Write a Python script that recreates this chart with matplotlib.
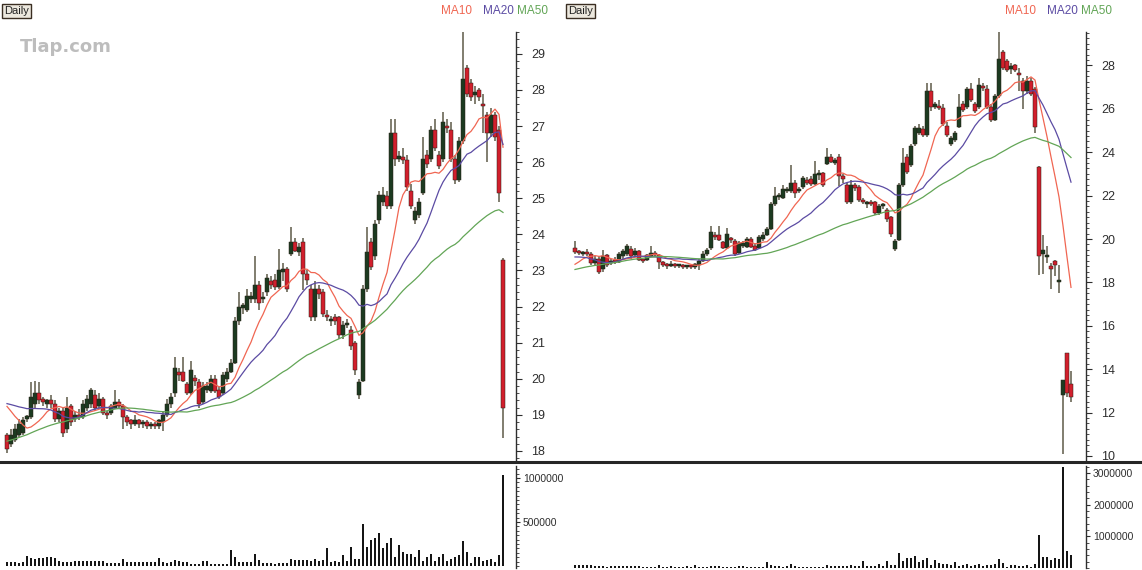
import matplotlib
matplotlib.use('Agg')
import matplotlib.pyplot as plt
import numpy as np
from matplotlib.ticker import MultipleLocator, FixedLocator
from matplotlib.lines import Line2D

plt.rcParams['font.family'] = ['Liberation Sans Narrow', 'Liberation Sans', 'DejaVu Sans']

# ---------------- data ----------------
# closes before the first drawn candle (only used to warm up the moving averages)
history_closes = [16.9, 17.0, 16.8, 16.9, 17.1, 17.0, 17.2, 17.1, 17.3, 17.2,
                  17.4, 17.3, 17.5, 17.4, 17.6, 17.5, 17.7, 17.6, 17.8, 17.7,
                  17.9, 17.8, 18.0, 17.9, 18.1, 18.0, 18.2, 18.3, 18.5, 18.7,
                  19.0, 19.2, 19.4, 19.3, 19.5, 19.4, 19.6, 19.5, 19.4, 19.6,
                  19.8, 20.0, 19.9, 20.1, 19.8,
                  19.2, 18.8, 18.5, 18.2]

opens = [18.45, 18.20, 18.30, 18.45, 18.50, 18.90, 18.95, 19.30, 19.60, 19.45,
         19.30, 19.40, 19.30, 18.90, 19.10, 18.60, 19.25, 18.90, 19.00, 18.95,
         19.20, 19.30, 19.55, 19.25, 19.45, 19.05, 19.05, 19.20, 19.35, 19.25,
         18.95, 18.85, 18.75, 18.85, 18.75, 18.80, 18.70, 18.75, 18.70, 18.80,
         19.00, 19.30, 19.60, 20.20, 20.20, 19.85, 19.60, 20.00, 19.90, 19.35,
         19.70, 19.65, 20.00, 19.70, 19.60, 20.00, 20.20, 20.45, 21.60, 21.95,
         21.90, 22.20, 22.20, 22.60, 22.20, 22.40, 22.70, 22.75, 22.55, 22.95,
         23.05, 23.45, 23.80, 23.50, 23.80, 22.90, 22.50, 21.70, 22.50, 22.40,
         21.75, 21.60, 21.70, 21.70, 21.20, 21.50, 21.35, 21.00, 19.55, 19.95,
         22.50, 23.80, 23.40, 24.40, 24.90, 25.05, 24.80, 26.80, 26.10, 26.15,
         26.05, 25.20, 24.40, 24.55, 25.15, 26.20, 26.10, 26.90, 26.20, 26.10,
         27.00, 26.90, 26.10, 25.50, 26.60, 28.60, 28.20, 27.85, 28.00, 27.60,
         27.30, 26.80, 27.30, 26.90, 23.30, 19.30, 19.15, 18.75, 19.00, 18.00,
         12.80, 14.75, 13.30]

highs = [18.50, 18.60, 18.75, 18.90, 18.95, 19.00, 19.90, 19.95, 19.90, 19.50,
         19.45, 19.55, 19.40, 19.20, 19.20, 19.50, 19.30, 19.10, 19.15, 19.40,
         19.55, 19.75, 19.70, 19.60, 19.50, 19.10, 19.30, 19.70, 19.45, 19.30,
         19.00, 18.90, 19.00, 18.90, 18.85, 18.85, 18.80, 18.80, 18.90, 19.10,
         19.45, 19.60, 20.60, 20.30, 20.60, 19.90, 20.50, 20.10, 20.00, 19.90,
         19.90, 20.10, 20.10, 19.80, 20.20, 20.30, 20.55, 21.70, 22.40, 22.10,
         22.50, 22.40, 23.40, 22.70, 22.40, 22.90, 22.85, 22.90, 23.60, 23.20,
         23.10, 24.20, 23.90, 23.75, 23.90, 23.00, 22.60, 22.70, 22.60, 22.50,
         21.90, 21.75, 21.80, 21.75, 21.60, 21.65, 21.45, 21.05, 20.00, 22.60,
         24.20, 23.90, 24.40, 25.20, 25.30, 25.20, 27.20, 27.20, 26.30, 26.40,
         26.20, 25.40, 24.75, 25.00, 26.70, 26.35, 27.00, 27.20, 26.30, 27.40,
         27.20, 27.10, 26.20, 26.70, 29.60, 28.70, 28.30, 28.10, 28.05, 27.90,
         27.40, 27.50, 27.40, 27.00, 23.35, 20.20, 19.70, 18.90, 19.05, 18.80,
         13.50, 14.75, 13.90]

lows = [17.95, 18.10, 18.25, 18.40, 18.45, 18.80, 18.90, 19.20, 19.30, 19.25,
        19.20, 19.20, 18.80, 18.80, 18.40, 18.50, 18.70, 18.80, 18.85, 18.90,
        19.10, 19.20, 19.10, 19.15, 19.00, 18.90, 19.00, 19.15, 19.15, 18.60,
        18.70, 18.60, 18.70, 18.65, 18.65, 18.60, 18.60, 18.60, 18.60, 18.55,
        18.95, 19.20, 19.50, 19.95, 19.90, 19.55, 19.55, 19.80, 19.20, 19.30,
        19.60, 19.60, 19.60, 19.45, 19.55, 19.90, 20.15, 20.40, 21.50, 21.80,
        21.85, 22.10, 22.10, 21.90, 22.10, 22.30, 22.50, 22.45, 22.50, 22.70,
        22.40, 23.40, 23.50, 23.40, 22.45, 22.60, 21.60, 21.60, 22.20, 21.70,
        21.60, 21.45, 21.50, 21.10, 21.10, 21.40, 20.80, 20.10, 19.45, 19.90,
        22.40, 23.00, 23.30, 24.30, 24.80, 24.70, 24.70, 25.90, 26.00, 25.95,
        25.20, 24.70, 24.30, 24.45, 25.10, 25.85, 26.00, 26.30, 25.80, 26.00,
        26.80, 26.00, 25.40, 25.45, 26.50, 27.80, 27.70, 27.60, 27.70, 26.80,
        26.00, 26.70, 26.60, 24.90, 18.35, 18.40, 18.90, 17.70, 18.30, 17.50,
        10.10, 12.70, 12.50]

closes = [18.05, 18.45, 18.60, 18.75, 18.85, 18.95, 19.50, 19.60, 19.40, 19.35,
          19.40, 19.30, 18.90, 19.10, 18.50, 19.20, 18.80, 19.00, 18.95, 19.30,
          19.45, 19.70, 19.20, 19.45, 19.05, 19.00, 19.25, 19.35, 19.25, 18.95,
          18.80, 18.75, 18.85, 18.75, 18.80, 18.70, 18.75, 18.70, 18.85, 19.00,
          19.30, 19.50, 20.30, 20.10, 19.95, 19.60, 20.25, 19.95, 19.30, 19.80,
          19.80, 20.00, 19.65, 19.50, 20.10, 20.20, 20.45, 21.60, 22.00, 22.05,
          22.30, 22.30, 22.60, 22.10, 22.25, 22.80, 22.60, 22.55, 23.00, 23.05,
          22.50, 23.80, 23.55, 23.65, 22.90, 22.75, 21.70, 22.50, 22.35, 21.80,
          21.70, 21.65, 21.60, 21.20, 21.50, 21.55, 20.90, 20.25, 19.90, 22.50,
          23.50, 23.10, 24.30, 25.10, 25.10, 24.80, 26.80, 26.10, 26.15, 26.05,
          25.30, 24.80, 24.65, 24.90, 26.10, 25.95, 26.90, 26.40, 25.90, 27.10,
          26.95, 26.10, 25.50, 26.60, 28.30, 27.90, 27.80, 27.95, 27.80, 27.55,
          26.80, 27.30, 26.70, 25.15, 19.20, 19.50, 19.25, 18.60, 18.80, 18.10,
          13.50, 12.90, 12.70]

volumes_k = [40, 50, 40, 35, 50, 110, 90, 85, 95, 95,
             100, 100, 90, 55, 50, 50, 45, 55, 60, 60,
             60, 60, 55, 60, 55, 30, 30, 35, 30, 80,
             45, 40, 50, 45, 40, 45, 50, 40, 90, 40,
             35, 45, 70, 60, 50, 40, 20, 20, 25, 60,
             55, 20, 20, 25, 20, 25, 180, 100, 50, 50,
             45, 50, 140, 70, 30, 30, 30, 25, 30, 30,
             35, 80, 70, 70, 70, 70, 60, 80, 60, 70,
             210, 50, 60, 50, 120, 60, 220, 80, 80, 480,
             220, 300, 320, 380, 200, 260, 320, 100, 240, 160,
             140, 140, 100, 180, 60, 100, 140, 60, 100, 140,
             60, 80, 100, 120, 280, 160, 30, 100, 100, 60,
             70, 80, 40, 120, 1030, 350, 350, 250, 300, 280,
             3200, 550, 400]

left_last_index = 124     # last candle of the left chart
right_first_index = 8     # first candle of the right chart
price_ticks_left = list(range(18, 30))
price_ticks_right = list(range(10, 30, 2))
volume_ticks_left = [500000, 1000000]
volume_ticks_right = [1000000, 2000000, 3000000]
ma_periods = [10, 20, 50]
ma_labels = ['MA10', 'MA20', 'MA50']

# ---------------- styling ----------------
UP_COL = '#1c3a20'
DOWN_COL = '#d11f2c'
EDGE_COL = '#2b2118'
WICK_COL = '#5e5a48'
MA_COLS = ['#f06652', '#5b4ba3', '#62a556']
AXIS_COL = '#2e2e2e'

W, H = 1142, 570
fig = plt.figure(figsize=(W / 100, H / 100), dpi=100)
fig.patch.set_facecolor('white')


def axes_px(x0, y0, x1, y1):
    return fig.add_axes([x0 / W, 1 - y1 / H, (x1 - x0) / W, (y1 - y0) / H])


all_closes = np.array(history_closes + closes)
nh = len(history_closes)
n = len(closes)


def moving_average(period):
    out = np.full(n, np.nan)
    for k in range(n):
        j = nh + k
        out[k] = all_closes[j - period + 1:j + 1].mean()
    return out


mas = [moving_average(p) for p in ma_periods]

o = np.array(opens); h = np.array(highs); l = np.array(lows); c = np.array(closes)
v = np.array(volumes_k) * 1000.0


def style_axis(ax, fs, pad, major_len):
    for s in ['top', 'left', 'bottom']:
        ax.spines[s].set_visible(False)
    ax.spines['right'].set_color(AXIS_COL)
    ax.spines['right'].set_linewidth(1.0)
    ax.yaxis.tick_right()
    ax.set_xticks([])
    ax.tick_params(axis='y', which='major', direction='out', length=major_len, width=0.8,
                   colors=AXIS_COL, labelsize=fs, pad=pad)
    ax.tick_params(axis='y', which='minor', direction='out', length=2, width=0.6,
                   colors=AXIS_COL)
    ax.set_facecolor('none')


def draw_panel(px0, px1, i0, i1, xlim, ylim, pticks, pminor, vlim, vticks, vminor):
    idx = np.arange(i0, i1 + 1)
    ax = axes_px(px0, 32, px1, 460)
    ax.set_xlim(*xlim)
    ax.set_ylim(*ylim)
    ax.vlines(idx, l[idx], h[idx], color=WICK_COL, lw=1.1, zorder=2)
    up = c[idx] >= o[idx]
    bottoms = np.minimum(o[idx], c[idx])
    heights = np.maximum(np.abs(c[idx] - o[idx]), 0.06 * (ylim[1] - ylim[0]) / 12)
    cols = [UP_COL if u else DOWN_COL for u in up]
    ax.bar(idx, heights, bottom=bottoms, width=0.8, color=cols,
           edgecolor=EDGE_COL, linewidth=0.35, zorder=3)
    for ma, col in zip(mas, MA_COLS):
        ax.plot(idx, ma[idx], color=col, lw=0.9, zorder=4)
    style_axis(ax, 9, 7, 4)
    ax.yaxis.set_major_locator(FixedLocator(pticks))
    ax.yaxis.set_minor_locator(MultipleLocator(pminor))
    ax.set_yticklabels([str(t) for t in pticks])

    axv = axes_px(px0, 466, px1, 568)
    axv.set_xlim(*xlim)
    axv.set_ylim(*vlim)
    axv.bar(idx, v[idx], width=0.5, color='#151515', zorder=3)
    style_axis(axv, 7.5, 2, 3)
    axv.yaxis.set_major_locator(FixedLocator(vticks))
    axv.yaxis.set_minor_locator(MultipleLocator(vminor))
    axv.set_yticklabels([str(t) for t in vticks])
    return ax, axv


# left chart: 4 px per candle, last candle at x=503
draw_panel(0, 516, 0, left_last_index,
           (left_last_index - 503 / 4, left_last_index + 13 / 4),
           (18 - 9 / 36.1, 18 + 419 / 36.1), price_ticks_left, 0.2,
           (-2 / 88 * 1e6, 100 / 88 * 1e6), volume_ticks_left, 50000)

# right chart: same spacing, big red candle at x=1039
draw_panel(566, 1086, right_first_index, n - 1,
           (left_last_index - (1039 - 566) / 4, left_last_index + (1086 - 1039) / 4),
           (20 - 221 / 21.7, 20 + 207 / 21.7), price_ticks_right, 0.25,
           (0, 3.22e6), volume_ticks_right, 200000)

# separator line between price and volume panes
fig.add_artist(Line2D([0, 1], [1 - 462 / H, 1 - 462 / H], color='#262626', lw=2.2,
                      transform=fig.transFigure))

# "Daily" boxes, MA legends
for x0 in (4, 568):
    fig.text(x0 / W, 1 - 11 / H, 'Daily', fontsize=8, color='#222222', va='center', ha='left',
             bbox=dict(boxstyle='square,pad=0.2', facecolor='#ece8de', edgecolor='#3a2e22', lw=1.0))
    for dx, lab, col in zip((437, 479, 513), ma_labels, MA_COLS):
        fig.text((x0 + dx) / W, 1 - 11 / H, lab, fontsize=8.5, color=col, va='center', ha='left')

fig.text(20 / W, 1 - 47 / H, 'Tlap.com', fontsize=13, color='#bdbdbd', fontweight='bold',
         va='center', ha='left', family='DejaVu Sans')

fig.savefig('out.png', dpi=100, facecolor='white')
